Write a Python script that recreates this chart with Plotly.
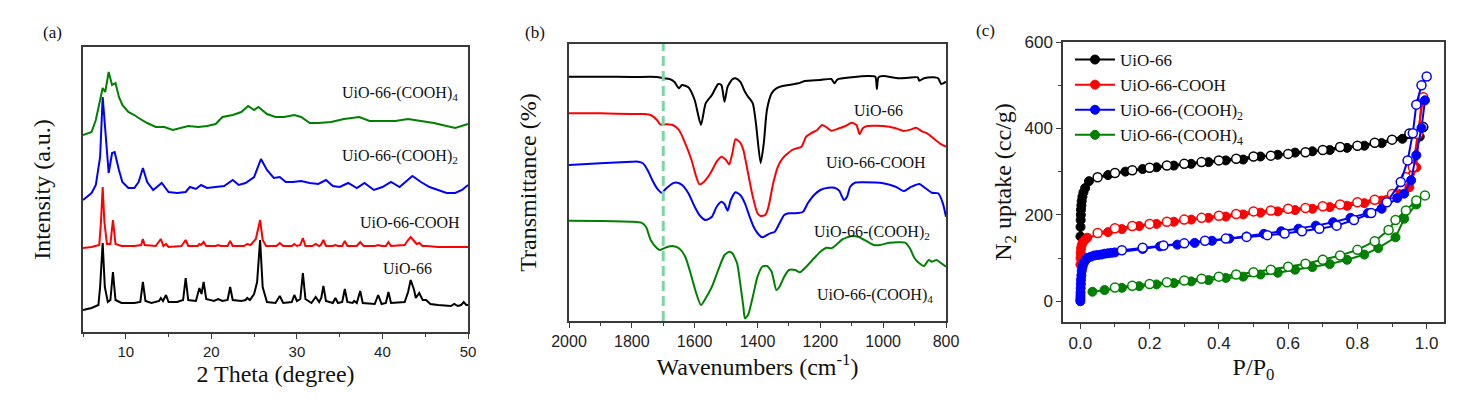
import plotly.graph_objects as go

# ---------------- Panel (a): XRD ----------------
xrd_uio66_x = [5, 6, 6.8, 7.0, 7.3, 7.55, 7.9, 8.2, 8.5, 8.8, 9.5, 11, 11.7, 12.0, 12.3, 13, 13.9, 14.1, 14.35, 14.7, 15.0, 16, 16.7, 17.0, 17.3, 18.2, 18.6, 18.85, 19.1, 19.4, 20.3, 20.8, 21.3, 21.9, 22.2, 22.5, 23.5, 24.0, 24.2, 24.5, 25.0, 25.35, 25.7, 26.0, 26.5, 27.5, 28.0, 28.4, 29.4, 29.7, 30.0, 30.4, 30.7, 31.0, 31.7, 32.2, 32.6, 32.85, 33.1, 33.4, 34.2, 34.5, 34.8, 35.3, 35.6, 35.9, 36.5, 36.7, 37.0, 37.4, 37.7, 39.1, 39.5, 39.9, 40.4, 40.7, 41.0, 42.6, 43.0, 43.3, 43.7, 43.9, 44.3, 44.7, 45.1, 45.6, 46.5, 48.0, 48.4, 48.8, 49.2, 49.5, 49.8, 50]
xrd_uio66_y = [22, 24, 27, 45, 89, 45, 30, 32, 60, 32, 29, 29, 30, 50, 31, 29, 31, 34, 31, 37, 30, 30, 32, 54, 32, 31, 44, 38, 50, 33, 31, 33, 31, 32, 45, 32, 31, 32, 34, 32, 38, 50, 92, 45, 30, 29, 36, 29, 30, 37, 31, 33, 59, 33, 29, 35, 30, 34, 46, 31, 29, 34, 29, 30, 43, 30, 29, 31, 29, 41, 29, 28, 37, 28, 29, 40, 29, 30, 40, 52, 42, 34, 39, 32, 32, 28, 27, 26, 28, 26, 27, 30, 27, 27]

xrd_cooh_x = [5, 6, 6.9, 7.1, 7.3, 7.5, 7.8, 8.2, 8.5, 8.8, 9.5, 11, 11.8, 12.0, 12.2, 13.5, 14.1, 14.4, 14.7, 15.0, 16.5, 17.0, 17.3, 18.4, 18.6, 18.8, 19.1, 19.4, 20.5, 20.8, 21.1, 21.9, 22.2, 22.5, 23.8, 24.2, 24.6, 25.2, 25.7, 26.0, 26.4, 27.6, 28.0, 28.4, 29.4, 29.7, 30.0, 30.4, 30.7, 31.0, 31.8, 32.2, 32.6, 32.8, 33.1, 33.4, 34.2, 34.5, 34.8, 35.3, 35.6, 35.9, 37.0, 37.4, 37.8, 39.1, 39.5, 39.9, 40.4, 40.7, 41.0, 42.6, 43.0, 43.3, 43.7, 44.0, 44.3, 44.7, 45.2, 46.5, 48, 50]
xrd_cooh_y = [84, 85, 87, 110, 145, 110, 88, 88, 112, 88, 86, 86, 87, 93, 87, 86, 93, 86, 88, 85, 86, 92, 86, 86, 88, 87, 90, 86, 86, 87, 86, 86, 91, 86, 86, 88, 87, 93, 112, 92, 86, 86, 89, 86, 86, 88, 86, 87, 94, 86, 86, 88, 86, 87, 92, 86, 86, 87, 86, 86, 91, 86, 86, 90, 86, 86, 87, 86, 86, 90, 86, 87, 92, 95, 91, 88, 89, 86, 86, 85, 85, 85]

xrd_cooh2_x = [5, 6, 6.5, 7.0, 7.3, 7.6, 7.8, 8.0, 8.4, 8.7, 9.2, 9.6, 10.3, 11, 11.5, 12, 12.5, 13.2, 14.2, 15, 16, 17, 17.5, 18.2, 18.8, 19.5, 20.5, 21.5, 22.5, 23.2, 24, 25, 25.8, 26.5, 27.3, 28, 28.7, 29.5, 30.5, 31.5, 32.5, 33.4, 34.2, 35, 36, 37, 37.9, 39, 40, 41, 42, 43.5, 44.5, 45.5, 46.5, 47.5, 48.5, 49.3, 50]
xrd_cooh2_y = [132, 139, 147, 175, 235, 200, 175, 159, 179, 180, 162, 150, 144, 144, 150, 164, 150, 142, 149, 140, 139, 140, 145, 143, 147, 144, 145, 146, 152, 147, 149, 155, 173, 162, 154, 155, 150, 150, 151, 149, 148, 152, 146, 145, 149, 144, 149, 142, 145, 150, 145, 156, 150, 145, 142, 139, 139, 142, 147]

xrd_cooh4_x = [5, 6, 6.5, 7, 7.3, 7.6, 8.0, 8.4, 8.8, 9.2, 9.6, 10.3, 11, 11.5, 12.5, 13.5, 14.5, 15.5, 16.5, 17.3, 18.5, 19.5, 20.5, 21.3, 22.5, 23.5, 24.3, 25, 25.5, 26.5, 27.5, 28.5, 29.7, 30.5, 31.5, 32.5, 34, 35.5, 37.3, 38.5, 40, 41.5, 43, 44.5, 46, 47.5, 48.5, 50]
xrd_cooh4_y = [197, 200, 212, 232, 244, 240, 260, 247, 249, 235, 227, 220, 217, 214, 209, 205, 205, 202, 204, 206, 205, 206, 208, 215, 217, 220, 226, 222, 225, 218, 215, 215, 217, 215, 209, 209, 210, 213, 215, 211, 211, 211, 213, 211, 209, 206, 204, 208]

# ---------------- Panel (b): FTIR ----------------
ir_uio66_x = [2000, 1900, 1800, 1720, 1700, 1680, 1665, 1650, 1640, 1620, 1600, 1580, 1565, 1545, 1525, 1515, 1505, 1495, 1480, 1470, 1455, 1440, 1430, 1415, 1405, 1390, 1380, 1370, 1355, 1340, 1320, 1300, 1270, 1250, 1200, 1165, 1155, 1145, 1100, 1050, 1025, 1020, 1015, 1000, 950, 920, 890, 885, 870, 840, 825, 815, 800]
ir_uio66_y = [244.3, 244.3, 244, 244, 242.7, 242, 239.3, 232.7, 236, 233.7, 221, 196, 217.7, 226, 237, 236, 219.3, 234.3, 241.7, 242.7, 239.3, 229.3, 224.3, 217.7, 197.7, 157.7, 177.7, 211, 227.7, 232.7, 235, 236, 237.7, 240, 241, 242, 237.7, 241.7, 243.7, 245, 244.3, 232, 243.7, 245, 242.7, 243.3, 243.7, 240.3, 242.7, 243.7, 242.7, 237, 239.3]

ir_cooh_x = [2000, 1900, 1800, 1760, 1740, 1720, 1710, 1690, 1670, 1650, 1630, 1610, 1595, 1585, 1570, 1550, 1530, 1515, 1500, 1490, 1480, 1470, 1455, 1445, 1430, 1415, 1400, 1390, 1375, 1365, 1350, 1335, 1320, 1290, 1275, 1260, 1245, 1230, 1210, 1195, 1180, 1165, 1140, 1120, 1100, 1085, 1075, 1065, 1050, 1000, 960, 935, 910, 895, 875, 860, 840, 820, 800]
ir_cooh_y = [207.7, 207.7, 207, 207, 206, 201, 196.7, 196.7, 196, 191, 177.7, 161, 144.3, 136.7, 139.3, 147.7, 159.3, 164.3, 161, 156.7, 167.7, 181.7, 178.3, 171, 147.7, 124.3, 107.7, 105, 106, 114.3, 137.7, 154.3, 162.7, 171, 172.7, 174.3, 184.3, 187.7, 191, 196, 193.7, 190.3, 192.7, 195, 198.3, 196, 186.7, 192.7, 195, 195, 192.7, 190, 191.7, 193.3, 189.3, 187.7, 182.7, 177.7, 174.3]

ir_cooh2_x = [2000, 1900, 1800, 1780, 1765, 1750, 1735, 1720, 1705, 1690, 1670, 1655, 1640, 1620, 1600, 1585, 1565, 1545, 1530, 1515, 1505, 1495, 1485, 1470, 1455, 1440, 1425, 1410, 1395, 1385, 1370, 1360, 1345, 1330, 1315, 1300, 1280, 1255, 1240, 1220, 1200, 1175, 1155, 1140, 1125, 1115, 1105, 1090, 1060, 1000, 960, 935, 910, 885, 865, 845, 825, 810, 800]
ir_cooh2_y = [156, 157.7, 159.3, 159.3, 157.7, 151, 141, 132.7, 128.3, 132.7, 137.7, 138.3, 136, 127.7, 114.3, 106, 101, 104.3, 114.3, 119.3, 117, 110.3, 121, 128.7, 126, 117.7, 104.3, 92.7, 86, 83.7, 86, 87.7, 89.3, 97.7, 106, 107.7, 107.7, 109.3, 117.7, 126, 131, 133.3, 133.3, 130.3, 121, 124.3, 134.3, 138.3, 138.7, 137.7, 134.3, 130, 134.3, 137, 132.7, 128.3, 127.7, 117.7, 104.3]

ir_cooh4_x = [2000, 1900, 1800, 1770, 1755, 1740, 1720, 1710, 1690, 1670, 1650, 1630, 1610, 1595, 1580, 1565, 1545, 1525, 1505, 1490, 1480, 1465, 1455, 1445, 1440, 1430, 1415, 1400, 1385, 1370, 1355, 1340, 1330, 1315, 1300, 1280, 1265, 1245, 1220, 1200, 1180, 1165, 1150, 1130, 1100, 1080, 1050, 1030, 1010, 980, 950, 930, 915, 900, 885, 870, 855, 845, 830, 815, 800]
ir_cooh4_y = [100.3, 100, 99.3, 98.3, 94.3, 81, 72.7, 71, 73.7, 75, 72.7, 64.3, 44.3, 27.7, 16, 22.7, 34.3, 51, 66, 69.3, 67.7, 57.7, 37.7, 14.3, 2.7, 6, 24.3, 44.3, 54.3, 55, 49.3, 31, 34.3, 44.3, 51, 51, 48.7, 54.3, 62.7, 69.3, 73.3, 72.7, 76, 81.7, 85, 84.3, 79.3, 76, 76, 78.3, 78.7, 78.3, 72.7, 62.7, 57.7, 55, 61, 59.3, 61, 57.7, 54.3]

# ---------------- Panel (c): N2 isotherms ----------------
iso_uio66_ads_p = [0.0003, 0.0006, 0.001, 0.0015, 0.002, 0.003, 0.004, 0.006, 0.009, 0.014, 0.025, 0.08, 0.13, 0.18, 0.22, 0.27, 0.32, 0.37, 0.42, 0.47, 0.52, 0.57, 0.62, 0.67, 0.72, 0.77, 0.82, 0.87, 0.93, 0.98, 0.99]
iso_uio66_ads_v = [150, 172, 188, 200, 212, 222, 232, 242, 252, 262, 278, 292, 300, 306, 310, 314, 318, 322, 326, 328, 335, 339, 344, 347, 350, 355, 360, 366, 376, 381, 403]
iso_uio66_des_p = [0.99, 0.95, 0.90, 0.85, 0.80, 0.75, 0.70, 0.65, 0.60, 0.55, 0.50, 0.45, 0.40, 0.35, 0.30, 0.25, 0.20, 0.15, 0.10, 0.05]
iso_uio66_des_v = [403, 388, 374, 367, 360, 357, 350, 345, 341, 337, 335, 330, 326, 322, 318, 314, 309, 303, 297, 287]

iso_cooh_ads_p = [0.0002, 0.0005, 0.001, 0.002, 0.004, 0.007, 0.012, 0.02, 0.08, 0.12, 0.17, 0.22, 0.27, 0.32, 0.37, 0.42, 0.47, 0.52, 0.57, 0.62, 0.67, 0.72, 0.77, 0.82, 0.87, 0.92, 0.95, 0.97, 0.985]
iso_cooh_ads_v = [85, 100, 112, 122, 130, 136, 141, 147, 160, 167, 174, 179, 184, 189, 193, 196, 201, 205, 208, 211, 214, 218, 221, 227, 233, 248, 264, 310, 465]
iso_cooh_des_p = [0.99, 0.975, 0.96, 0.94, 0.90, 0.85, 0.80, 0.75, 0.70, 0.65, 0.60, 0.55, 0.50, 0.45, 0.40, 0.35, 0.30, 0.25, 0.20, 0.15, 0.10, 0.05]
iso_cooh_des_v = [472, 387, 310, 287, 248, 235, 229, 224, 220, 216, 214, 210, 208, 202, 198, 193, 189, 184, 179, 174, 169, 158]

iso_cooh2_ads_p = [0.0001, 0.0002, 0.0004, 0.0006, 0.001, 0.0015, 0.002, 0.003, 0.004, 0.006, 0.008, 0.011, 0.015, 0.02, 0.03, 0.04, 0.05, 0.06, 0.07, 0.08, 0.09, 0.10, 0.18, 0.23, 0.28, 0.33, 0.38, 0.43, 0.48, 0.53, 0.58, 0.63, 0.68, 0.73, 0.78, 0.83, 0.87, 0.915, 0.935, 0.955, 0.97, 0.985, 0.995]
iso_cooh2_ads_v = [0, 5, 12, 20, 30, 40, 50, 60, 70, 78, 85, 90, 95, 100, 103, 106, 107, 108, 110, 111, 112, 113, 121, 127, 131, 135, 140, 145, 150, 156, 162, 168, 175, 183, 193, 204, 214, 239, 249, 280, 338, 401, 465]
iso_cooh2_des_p = [1.0, 0.985, 0.97, 0.96, 0.945, 0.925, 0.885, 0.84, 0.79, 0.74, 0.69, 0.64, 0.59, 0.54, 0.48, 0.42, 0.36, 0.30, 0.24, 0.18, 0.12]
iso_cooh2_des_v = [520, 500, 455, 389, 326, 276, 229, 204, 188, 175, 168, 162, 157, 153, 149, 145, 140, 134, 129, 124, 118]

iso_cooh4_ads_p = [0.035, 0.07, 0.12, 0.17, 0.22, 0.27, 0.32, 0.37, 0.42, 0.47, 0.52, 0.57, 0.62, 0.67, 0.72, 0.77, 0.82, 0.86, 0.91, 0.935, 0.97]
iso_cooh4_ads_v = [22, 26, 31, 35, 39, 42, 46, 49, 54, 57, 62, 66, 73, 79, 86, 96, 108, 123, 148, 191, 224]
iso_cooh4_des_p = [0.995, 0.97, 0.94, 0.91, 0.89, 0.85, 0.80, 0.75, 0.70, 0.65, 0.60, 0.55, 0.50, 0.45, 0.40, 0.35, 0.30, 0.25, 0.20, 0.15, 0.10]
iso_cooh4_des_v = [245, 233, 210, 188, 165, 139, 119, 106, 96, 87, 80, 73, 67, 62, 57, 52, 48, 44, 40, 36, 32]

names = ["UiO-66", "UiO-66-COOH", "UiO-66-(COOH)<sub>2</sub>", "UiO-66-(COOH)<sub>4</sub>"]
colors = ["#000000", "#ff0000", "#0000ff", "#008000"]

SERIF = "Liberation Serif"
SANS = "Liberation Sans"
FRAME = "#3a3a3a"

W, H = 1480, 399
OX, OY = 8, 8  # page body margin compensation


def px_x(p):
    return (p - OX) / W


def px_y(p):
    return 1 - (p - OY) / H


fig = go.Figure()

xrd = [(xrd_uio66_x, xrd_uio66_y), (xrd_cooh_x, xrd_cooh_y), (xrd_cooh2_x, xrd_cooh2_y), (xrd_cooh4_x, xrd_cooh4_y)]
for (x, y), c in zip(xrd, colors):
    fig.add_trace(go.Scatter(x=x, y=y, mode="lines", line=dict(color=c, width=2),
                             xaxis="x", yaxis="y", showlegend=False, hoverinfo="skip"))

ir = [(ir_uio66_x, ir_uio66_y), (ir_cooh_x, ir_cooh_y), (ir_cooh2_x, ir_cooh2_y), (ir_cooh4_x, ir_cooh4_y)]
for (x, y), c in zip(ir, colors):
    fig.add_trace(go.Scatter(x=x, y=y, mode="lines", line=dict(color=c, width=2, shape="spline", smoothing=0.6),
                             xaxis="x2", yaxis="y2", showlegend=False, hoverinfo="skip"))

iso = [
    (iso_uio66_ads_p, iso_uio66_ads_v, iso_uio66_des_p, iso_uio66_des_v),
    (iso_cooh_ads_p, iso_cooh_ads_v, iso_cooh_des_p, iso_cooh_des_v),
    (iso_cooh2_ads_p, iso_cooh2_ads_v, iso_cooh2_des_p, iso_cooh2_des_v),
    (iso_cooh4_ads_p, iso_cooh4_ads_v, iso_cooh4_des_p, iso_cooh4_des_v),
]
for (ap, av, dp, dv), c, n in zip(iso, colors, names):
    fig.add_trace(go.Scatter(x=ap, y=av, mode="lines+markers", name=n, legendgroup=n,
                             line=dict(color=c, width=2),
                             marker=dict(symbol="circle", size=9, color=c, line=dict(color=c, width=1)),
                             xaxis="x3", yaxis="y3"))
    fig.add_trace(go.Scatter(x=dp, y=dv, mode="lines+markers", name=n, legendgroup=n, showlegend=False,
                             line=dict(color=c, width=2),
                             marker=dict(symbol="circle", size=9, color="white", line=dict(color=c, width=1.5)),
                             xaxis="x3", yaxis="y3"))

axis_common = dict(showline=True, mirror=True, linecolor=FRAME, linewidth=1.5, showgrid=False,
                   zeroline=False, automargin=False)

fig.update_layout(
    width=W, height=H,
    margin=dict(l=0, r=0, t=0, b=0, autoexpand=False),
    paper_bgcolor="white", plot_bgcolor="white",
    xaxis=dict(domain=[px_x(83), px_x(468)], anchor="y", range=[5, 50], tick0=0, dtick=10,
               ticks="outside", ticklen=5, tickwidth=1.2, tickcolor=FRAME,
               minor=dict(dtick=5, tick0=0, ticks="outside", ticklen=3, tickcolor=FRAME),
               tickfont=dict(family=SANS, size=15, color="#222"),
               title=dict(text="2 Theta (degree)", font=dict(family=SERIF, size=24, color="#111"), standoff=6),
               **axis_common),
    yaxis=dict(domain=[px_y(332), px_y(47)], anchor="x", range=[0, 285], showticklabels=False, ticks="",
               title=dict(text="Intensity (a.u.)", font=dict(family=SERIF, size=24, color="#111"), standoff=24),
               **axis_common),
    xaxis2=dict(domain=[px_x(569), px_x(946)], anchor="y2", range=[2000, 800], dtick=200,
                ticks="outside", ticklen=5, tickwidth=1.2, tickcolor=FRAME,
                minor=dict(dtick=100, ticks="outside", ticklen=3, tickcolor=FRAME),
                tickfont=dict(family=SANS, size=16, color="#222"),
                title=dict(text="Wavenumbers (cm<sup>-1</sup>)", font=dict(family=SERIF, size=24, color="#111"), standoff=6),
                **axis_common),
    yaxis2=dict(domain=[px_y(321), px_y(44)], anchor="x2", range=[0, 277], showticklabels=False, ticks="",
                title=dict(text="Transmittance (%)", font=dict(family=SERIF, size=24, color="#111"), standoff=24),
                **axis_common),
    xaxis3=dict(domain=[px_x(1063), px_x(1444)], anchor="y3", range=[-0.05, 1.05], tick0=0, dtick=0.2, tickformat=".1f",
                ticks="outside", ticklen=5, tickwidth=1.2, tickcolor=FRAME,
                minor=dict(dtick=0.1, tick0=0, ticks="outside", ticklen=3, tickcolor=FRAME),
                tickfont=dict(family=SANS, size=17, color="#222"),
                title=dict(text="P/P<sub>0</sub>", font=dict(family=SERIF, size=24, color="#111"), standoff=6),
                **axis_common),
    yaxis3=dict(domain=[px_y(322), px_y(42)], anchor="x3", range=[-48, 600], tick0=0, dtick=200,
                ticks="outside", ticklen=5, tickwidth=1.2, tickcolor=FRAME,
                minor=dict(dtick=100, tick0=0, ticks="outside", ticklen=3, tickcolor=FRAME),
                tickfont=dict(family=SANS, size=17, color="#222"),
                title=dict(text="N<sub>2</sub> uptake (cc/g)", font=dict(family=SERIF, size=24, color="#111"), standoff=6),
                **axis_common),
    legend=dict(x=px_x(1070), y=px_y(42), xanchor="left", yanchor="top", bgcolor="rgba(0,0,0,0)",
                font=dict(family=SERIF, size=17, color="#111"), tracegroupgap=0, itemwidth=40),
    showlegend=True,
)

# dashed reference line at 1700 cm-1
fig.add_shape(type="line", xref="x2", yref="y2 domain", x0=1700, x1=1700, y0=0, y1=1,
              line=dict(color="rgb(125,212,165)", width=3, dash="10px,5px"))

lab_font = dict(family=SERIF, size=16, color="#111")
ann = [
    dict(x=42.0, y=239, xref="x", yref="y", text="UiO-66-(COOH)<sub>4</sub>"),
    dict(x=42.0, y=176, xref="x", yref="y", text="UiO-66-(COOH)<sub>2</sub>"),
    dict(x=43.2, y=110, xref="x", yref="y", text="UiO-66-COOH"),
    dict(x=42.9, y=64, xref="x", yref="y", text="UiO-66"),
    dict(x=1016, y=211, xref="x2", yref="y2", text="UiO-66"),
    dict(x=1023, y=159, xref="x2", yref="y2", text="UiO-66-COOH"),
    dict(x=1036, y=89, xref="x2", yref="y2", text="UiO-66-(COOH)<sub>2</sub>"),
    dict(x=1026, y=26, xref="x2", yref="y2", text="UiO-66-(COOH)<sub>4</sub>"),
]
for a in ann:
    fig.add_annotation(**a, showarrow=False, font=lab_font, xanchor="center", yanchor="middle")

for t, px, py in [("(a)", 52, 32), ("(b)", 535, 32), ("(c)", 985, 30)]:
    fig.add_annotation(x=px_x(px), y=px_y(py), xref="paper", yref="paper", text=t, showarrow=False,
                       font=dict(family=SERIF, size=17, color="#111"), xanchor="center", yanchor="middle")

fig.write_html("out.html")
